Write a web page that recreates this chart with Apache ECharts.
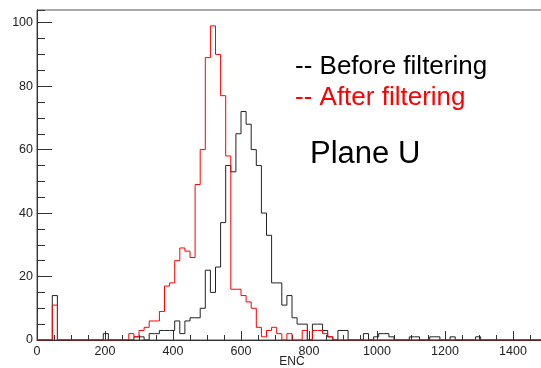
<!DOCTYPE html>
<html><head><meta charset="utf-8">
<script src="https://cdn.jsdelivr.net/npm/echarts/dist/echarts.min.js"></script>
<style>html,body{margin:0;padding:0;background:#fff}#c{width:541px;height:368px}</style>
</head><body><div id="c"></div>
<script>
// Histogram binning (ENC), 100 bins from 0 to 1500
const binStart = 0;
const binWidth = 15;

// Counts per bin, "Before filtering" (black)
const beforeFiltering = [
  0,0,0,14,0,0,0,0,0,0,
  0,0,0,2,0,0,0,0,0,1,
  1,0,2,2,3,3,3,6,2,6,
  7,7,10,22,15,23,37,55,53,65,
  72,68,60,55,40,33,18,18,11,14,
  7,5,5,0,5,5,3,1,0,3,
  3,0,0,0,2,0,1,2,2,1,
  0,0,0,1,1,0,0,1,1,0,
  0,1,0,0,0,0,1,0,0,0,
  0,0,0,0,0,0,0,0,0,0
];

// Counts per bin, "After filtering" (red)
const afterFiltering = [
  0,0,0,11,0,0,0,0,0,0,
  0,0,0,0,0,0,0,0,2,1,
  3,4,6,6,9,17,18,25,29,28,
  26,49,60,89,99,90,77,58,16,16,
  14,12,10,4,1,3,4,2,0,2,
  0,0,3,0,3,3,2,1,0,0,
  0,0,0,0,0,0,0,0,0,0,
  0,0,0,0,0,0,0,0,0,0,
  0,0,0,0,0,0,0,0,0,0,
  0,0,0,0,0,0,0,0,0,0
];

const xMin = 0, xMax = 1500, xMajor = 200, xMinor = 50;
const yMin = 0, yMax = 104, yMajor = 20, yMinor = 5;
const legendLines = ['-- Before filtering', '-- After filtering'];
const planeLabel = 'Plane U';
const xTitle = 'ENC';

function toSteps(vals) {
  const pts = vals.map((v, i) => [binStart + i * binWidth, v]);
  pts.push([binStart + vals.length * binWidth, vals[vals.length - 1]]);
  return pts;
}

const FONT = '"Liberation Sans", Arial, Helvetica, sans-serif';
const axisCol = '#333';
const plain = v => String(v);

const chart = echarts.init(document.getElementById('c'), null, {renderer: 'canvas'});
chart.setOption({
  animation: false,
  backgroundColor: '#fff',
  grid: {left: 37, right: -6, top: 10, bottom: 28, containLabel: false, outerBoundsMode: 'none',
         show: true, borderColor: '#555', borderWidth: 1, backgroundColor: 'transparent'},
  xAxis: [
    {type: 'value', min: xMin, max: xMax, interval: xMajor, position: 'bottom',
     axisLine: {show: true, lineStyle: {color: axisCol, width: 1}},
     axisTick: {show: true, inside: true, length: 9, lineStyle: {color: axisCol, width: 1}},
     axisLabel: {show: true, color: '#222', fontFamily: FONT, fontSize: 12.5, margin: 5, showMaxLabel: false, formatter: plain},
     splitLine: {show: false},
     name: xTitle, nameLocation: 'middle', nameGap: 16, nameMoveOverlap: false,
     nameTextStyle: {color: '#222', fontFamily: FONT, fontSize: 12, verticalAlign: 'top'}},
    {type: 'value', min: xMin, max: xMax, interval: xMinor, position: 'bottom',
     axisLine: {show: false},
     axisTick: {show: true, inside: true, length: 5, lineStyle: {color: axisCol, width: 1}},
     axisLabel: {show: false}, splitLine: {show: false}}
  ],
  yAxis: [
    {type: 'value', min: yMin, max: yMax, interval: yMajor, position: 'left',
     axisLine: {show: true, lineStyle: {color: axisCol, width: 1}},
     axisTick: {show: true, inside: true, length: 15, lineStyle: {color: axisCol, width: 1}},
     axisLabel: {show: true, color: '#222', fontFamily: FONT, fontSize: 12.5, margin: 4, showMaxLabel: false, formatter: plain},
     splitLine: {show: false}},
    {type: 'value', min: yMin, max: yMax, interval: yMinor, position: 'left',
     axisLine: {show: false},
     axisTick: {show: true, inside: true, length: 8, lineStyle: {color: axisCol, width: 1}},
     axisLabel: {show: false}, splitLine: {show: false}}
  ],
  series: [
    {type: 'line', name: 'Before filtering', step: 'end', symbol: 'none', silent: true,
     xAxisIndex: 0, yAxisIndex: 0, data: toSteps(beforeFiltering),
     lineStyle: {color: '#222', width: 1}, z: 2},
    {type: 'line', name: 'After filtering', step: 'end', symbol: 'none', silent: true,
     xAxisIndex: 0, yAxisIndex: 0, data: toSteps(afterFiltering),
     lineStyle: {color: '#ff0000', width: 1}, z: 3}
  ],
  graphic: [
    {type: 'text', x: 295, y: 67, style: {text: legendLines[0], fill: '#000', font: '26px ' + FONT, textVerticalAlign: 'middle', verticalAlign: 'middle'}},
    {type: 'text', x: 295, y: 97.5, style: {text: legendLines[1], fill: '#ff0000', font: '26px ' + FONT, textVerticalAlign: 'middle', verticalAlign: 'middle'}},
    {type: 'text', x: 310, y: 154, style: {text: planeLabel, fill: '#000', font: '31px ' + FONT, textVerticalAlign: 'middle', verticalAlign: 'middle'}}
  ]
});
</script>
</body></html>
